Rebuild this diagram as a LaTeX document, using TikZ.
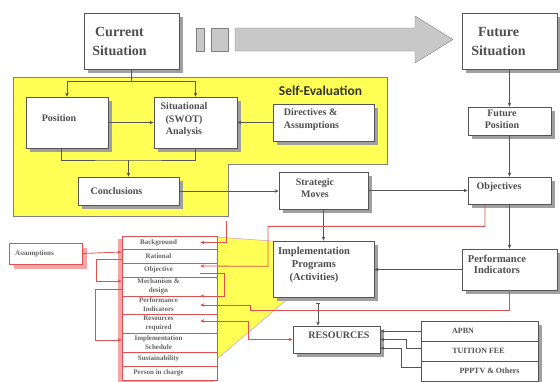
\documentclass[tikz,border=0pt]{standalone}
\usepackage{fontspec}
\setmainfont{Liberation Serif}
\newfontfamily\selffont{Carlito}
\usepackage{tikz}
\usetikzlibrary{arrows.meta,shadows}

\definecolor{selfyellow}{RGB}{255,255,85}
\definecolor{boxline}{RGB}{85,85,85}
\definecolor{txtgray}{RGB}{78,78,78}
\definecolor{itemgray}{RGB}{100,100,100}
\definecolor{shade}{RGB}{160,160,160}
\definecolor{redline}{RGB}{225,80,80}
\definecolor{pinkshade}{RGB}{245,165,165}
\definecolor{bigarrow}{RGB}{200,200,200}

\begin{document}
\begin{tikzpicture}[x=1pt, y=-1pt,
  box/.style={draw=boxline, fill=white, inner sep=0, line width=0.7pt,
    drop shadow={shadow xshift=4pt, shadow yshift=-4pt, fill=shade, opacity=1}},
  rbox/.style={draw=redline, fill=white, inner sep=0, line width=0.7pt,
    drop shadow={shadow xshift=5pt, shadow yshift=-5pt, fill=pinkshade, opacity=1}},
  boxtxt/.style={font=\bfseries\fontsize{10}{12.5}\selectfont, text=txtgray, align=center, inner sep=0},
  bigtxt/.style={boxtxt, font=\bfseries\fontsize{14}{19}\selectfont},
  smalltxt/.style={boxtxt, font=\bfseries\fontsize{8}{10}\selectfont},
  itemtxt/.style={font=\bfseries\fontsize{7}{9}\selectfont, text=itemgray, align=center, inner sep=0, xshift=-11},
  item/.style={draw=redline, fill=white, minimum width=95, inner sep=0, line width=0.6pt,
    label={[itemtxt]center:{#1}}},
  ln/.style={draw=boxline, line width=0.8pt},
  arr/.style={draw=boxline, line width=0.8pt, -{Stealth[length=4pt,width=3.5pt]}},
  rarr/.style={draw=redline, line width=0.8pt, -{Stealth[length=4pt,width=3.5pt]}}]
\useasboundingbox (0,0) rectangle (560,381);
% progress arrow
\filldraw[fill=bigarrow, draw=gray] (196,28) rectangle (204,51);
\filldraw[fill=bigarrow, draw=gray] (211,28) rectangle (228,51);
\filldraw[fill=bigarrow, draw=gray] (235,28) -- (415,28) -- (415,16) -- (453,39.5) -- (415,63) -- (415,51) -- (235,51) -- cycle;
% self evaluation area
\filldraw[fill=selfyellow, draw=gray, line width=0.7pt] (13,77) -- (387,77) -- (387,164) -- (228,164) -- (228,216) -- (13,216) -- cycle;
\node[font=\selffont\bfseries\fontsize{13.5}{16}\selectfont, text=black!80] (selftitle) at (320.5,91) {Self-Evaluation};
% yellow funnel behind the list
\filldraw[fill=selfyellow, draw=violet!40, line width=0.5pt] (217,237) -- (285,242) -- (290,297) -- (217,359) -- cycle;

\node[box, minimum width=95, minimum height=56, label={[bigtxt, xshift=-12]center:{Current\\Situation}}] (cur) at (131.5,41) {};
\node[box, minimum width=95, minimum height=56, label={[bigtxt, xshift=-11]center:{Future\\Situation}}] (fut) at (509.5,41) {};
\node[box, minimum width=82, minimum height=51, label={[boxtxt, xshift=-8, yshift=4.5]center:Position}] (pos) at (67,122.5) {};
\node[box, minimum width=83, minimum height=51, label={[boxtxt, xshift=-11.5, yshift=2.5]center:{Situational\\(SWOT)\\Analysis}}] (swot) at (195.5,122.5) {};
\node[box, minimum width=101, minimum height=37, label={[boxtxt, align=left, xshift=-12, yshift=3]center:{Directives \&\\Assumptions}}] (dir) at (323.5,122.5) {};
\node[box, minimum width=101, minimum height=28, label={[boxtxt, xshift=-12]center:Conclusions}] (conc) at (128.5,191) {};
\node[box, minimum width=89, minimum height=37, label={[boxtxt, xshift=-8.5, yshift=2.5]center:{Strategic\\Moves}}] (moves) at (323.5,190.5) {};
\node[box, minimum width=83, minimum height=28, label={[boxtxt, xshift=-7.5, yshift=1.5]center:{Future\\Position}}] (fpos) at (509.5,121) {};
\node[box, minimum width=83, minimum height=27, label={[boxtxt, xshift=-10.5, yshift=3.5]center:Objectives}] (obj) at (509.5,190.5) {};
\node[box, minimum width=95, minimum height=41, label={[boxtxt, font=\bfseries\fontsize{10.5}{11.5}\selectfont, xshift=-12.5, yshift=5]center:{Performance\\Indicators}}] (pind) at (509.5,269.5) {};
\node[box, minimum width=101, minimum height=56, label={[boxtxt, font=\bfseries\fontsize{10.5}{13}\selectfont, xshift=-9.5, yshift=4]center:{Implementation\\Programs\\(Activities)}}] (impl) at (323.5,269) {};
\node[box, minimum width=87, minimum height=27, label={[boxtxt, xshift=2.5, yshift=4.5]center:RESOURCES}] (res) at (336.5,339.5) {};
% funding sources
\node[box, minimum width=117, minimum height=20, label={[smalltxt, xshift=-16.5]center:APBN}] (apbn) at (479.5,331) {};
\node[box, minimum width=117, minimum height=20, label={[smalltxt, xshift=-1]center:TUITION FEE}] (tuition) at (479.5,351) {};
\node[box, minimum width=117, minimum height=20, label={[smalltxt, xshift=10]center:PPPTV \& Others}] (ppptv) at (479.5,371) {};

% programme content list
\node[rbox, minimum width=73, minimum height=21, label={[itemtxt]center:Assumptions}] (assum) at (45.5,253.5) {};
\fill[pinkshade] (118,239) rectangle (214,384);
\node[item={Background}, minimum height=13] (lbg) at (169.5,242.5) {};
\node[item={Rational}, minimum height=14] (lrat) at (169.5,256) {};
\node[item={Objective}, minimum height=14] (lobj) at (169.5,270) {};
\node[item={Mechanism \&\\design}, minimum height=19] (lmech) at (169.5,286.5) {};
\node[item={Performance\\Indicators}, minimum height=18] (lperf) at (169.5,305) {};
\node[item={Resources\\required}, minimum height=19] (lres) at (169.5,323.5) {};
\node[item={Implementation\\Schedule}, minimum height=19] (lsched) at (169.5,342.5) {};
\node[item={Sustainability}, minimum height=14] (lsust) at (169.5,359) {};
\node[item={Person in charge}, minimum height=14] (lpic) at (169.5,373) {};

% main flow
\draw[arr] (cur.south) -- ++(0,12) -| (pos.north);
\draw[arr] (cur.south) -- ++(0,12) -| (swot.north);
\draw[arr] (pos.east) -- (swot.west);
\draw[arr] (dir.west) -- (swot.east);
\coordinate (pjoin) at (128.5,160);
\draw[ln] ([xshift=-6]pos.south) |- (pjoin) -| (swot.south);
\draw[arr] (pjoin) -- (conc.north);
\draw[arr] (conc.east) -- (conc.east -| moves.west);
\draw[arr] (moves.east) -- (obj.west);
\draw[arr] (fut.south) -- (fpos.north);
\draw[arr] (fpos.south) -- (obj.north);
\draw[arr] (obj.south) -- (pind.north);
\draw[arr] (pind.west) -- (pind.west -| impl.east);
\draw[arr] (moves.south) -- (impl.north);
\coordinate (rtop) at ([xshift=-5.5,yshift=-6]impl.south);
\draw[arr, {Bar[width=4pt]}-{Stealth[length=4pt,width=3.5pt]}] (rtop) -- (rtop |- res.north);
\draw[arr] (apbn.west) -- (apbn.west -| res.east);
\draw[arr] ([yshift=3]tuition.west) -- ++(-14,0) |- (res.east);
\draw[arr] ([yshift=4]ppptv.west) -- ++(-19,0) |- ([yshift=-8.5]res.east);

% links into the list
\draw[rarr] (assum.east) -- ([yshift=4]lrat.west);
\draw[rarr] ([yshift=-3]lrat.west) -- ++(-25,0) |- ([yshift=5.5]lmech.west);
\draw[rarr] ([yshift=-2.5]lmech.west) -- ++(-26,0) |- ([yshift=2.5]lsched.west);
\coordinate (sebot) at (226,221);
\draw[rarr] (sebot) |- ([xshift=-17]lbg.east);
\draw[rarr] ([xshift=-24.5]obj.south) -- ++(0,22) -- ++(-217,0) -- ++(0,40) -- ([xshift=-17,yshift=4]lobj.east);
\draw[rarr] ([xshift=30,yshift=-3]lobj.center) -- ++(25,0) |- ([xshift=-17,yshift=9]lperf.east);
\draw[rarr] (pind.south) -- ++(0,20) -- ++(-259.5,0) |- ([xshift=-17]lperf.east);
\draw[rarr, {Stealth[length=4pt,width=3.5pt]}-{Stealth[length=4pt,width=3.5pt]}] ([xshift=-17,yshift=2.5]lres.east) -- ++(48,0) |- (res.west);
\end{tikzpicture}
\end{document}
